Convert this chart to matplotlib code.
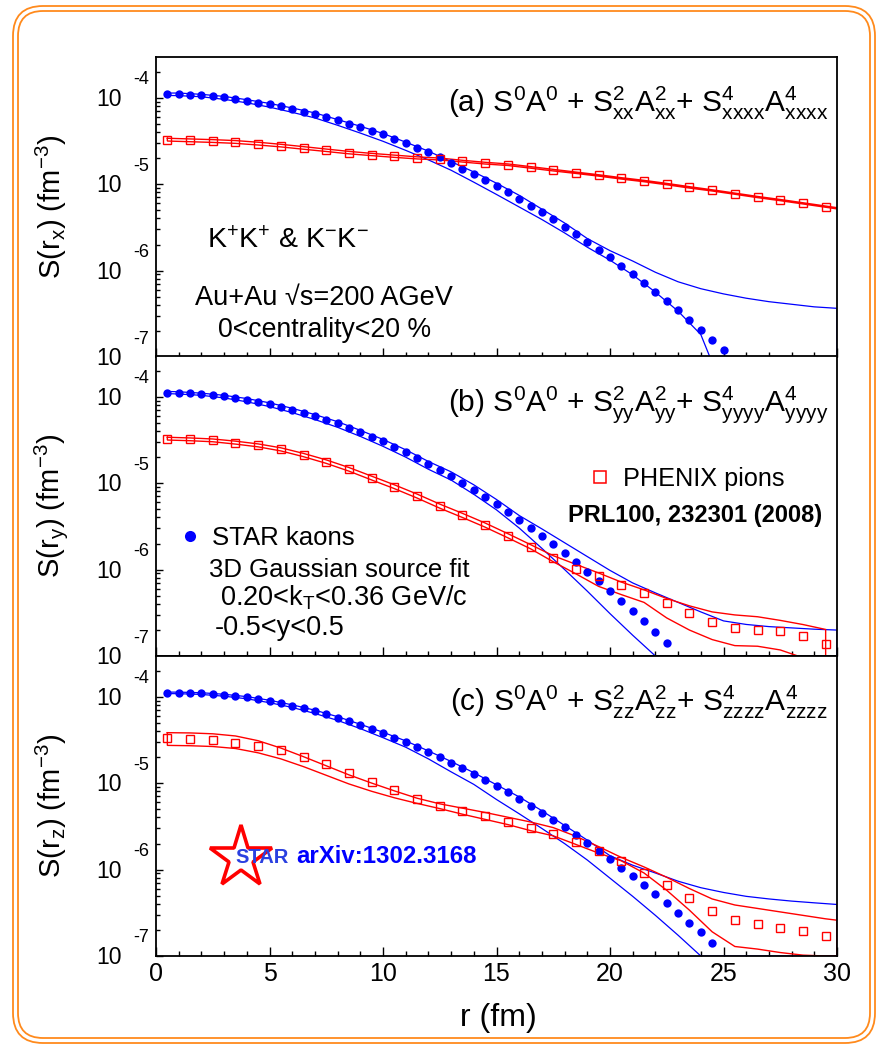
import numpy as np
import matplotlib
matplotlib.use('Agg')
import matplotlib.pyplot as plt
from matplotlib.patches import FancyBboxPatch
from matplotlib.transforms import IdentityTransform, offset_copy
from matplotlib.ticker import LogLocator, NullFormatter, MultipleLocator

plt.rcParams['font.family'] = ['Liberation Sans', 'DejaVu Sans']
plt.rcParams['mathtext.fontset'] = 'custom'
plt.rcParams['mathtext.rm'] = 'Liberation Sans'
plt.rcParams['mathtext.it'] = 'Liberation Sans:italic'
plt.rcParams['mathtext.bf'] = 'Liberation Sans:bold'
plt.rcParams['mathtext.default'] = 'regular'

# ---------------- data (log10 of S in fm^-3) ----------------
# STAR kaons, r = 0.5, 1.0, 1.5, ...
A_kaon_log = [-3.957, -3.957, -3.965, -3.972, -3.980, -3.996, -4.015, -4.034, -4.057, -4.077,
              -4.100, -4.130, -4.161, -4.187, -4.226, -4.264, -4.302, -4.341, -4.387, -4.425,
              -4.479, -4.525, -4.578, -4.629, -4.692, -4.758, -4.822, -4.888, -4.949, -5.023,
              -5.096, -5.168, -5.249, -5.323, -5.404, -5.491, -5.580, -5.669, -5.757, -5.849,
              -5.945, -6.045, -6.142, -6.249, -6.353, -6.460, -6.574, -6.685, -6.800, -6.915]
B_kaon_log = [-3.954, -3.954, -3.962, -3.970, -3.981, -3.997, -4.016, -4.035, -4.063, -4.086,
              -4.116, -4.150, -4.185, -4.225, -4.266, -4.309, -4.359, -4.410, -4.463, -4.517,
              -4.579, -4.637, -4.706, -4.775, -4.850, -4.922, -4.995, -5.076, -5.157, -5.243,
              -5.336, -5.424, -5.516, -5.613, -5.709, -5.813, -5.914, -6.025, -6.134, -6.250,
              -6.366, -6.481, -6.597, -6.720, -6.847]
C_kaon_log = [-3.954, -3.954, -3.958, -3.962, -3.970, -3.981, -3.993, -4.008, -4.031, -4.051,
              -4.078, -4.104, -4.135, -4.167, -4.205, -4.243, -4.286, -4.332, -4.378, -4.425,
              -4.475, -4.525, -4.583, -4.641, -4.699, -4.764, -4.830, -4.896, -4.965, -5.038,
              -5.108, -5.181, -5.262, -5.347, -5.424, -5.513, -5.602, -5.690, -5.782, -5.880,
              -5.979, -6.076, -6.181, -6.280, -6.392, -6.505, -6.616, -6.728, -6.847]

# PHENIX pions, r = 0.5, 1.5, ..., 29.5
r_pion = [0.5, 1.5, 2.5, 3.5, 4.5, 5.5, 6.5, 7.5, 8.5, 9.5, 10.5, 11.5, 12.5, 13.5, 14.5,
          15.5, 16.5, 17.5, 18.5, 19.5, 20.5, 21.5, 22.5, 23.5, 24.5, 25.5, 26.5, 27.5, 28.5, 29.5]
A_pion_log = [-4.486, -4.494, -4.502, -4.513, -4.532, -4.555, -4.582, -4.609, -4.636, -4.658,
              -4.678, -4.697, -4.710, -4.735, -4.758, -4.776, -4.807, -4.839, -4.869, -4.900,
              -4.934, -4.965, -5.000, -5.038, -5.073, -5.111, -5.150, -5.185, -5.223, -5.261]
B_pion_log = [-4.486, -4.494, -4.506, -4.532, -4.564, -4.610, -4.676, -4.752, -4.841, -4.942,
              -5.042, -5.150, -5.266, -5.374, -5.486, -5.609, -5.736, -5.872, -5.991, -6.076,
              -6.176, -6.269, -6.384, -6.500, -6.604, -6.674, -6.705, -6.713, -6.771, -6.859]
C_pion_log = [-4.483, -4.491, -4.506, -4.532, -4.567, -4.618, -4.699, -4.784, -4.880, -4.984,
              -5.085, -5.181, -5.266, -5.324, -5.382, -5.447, -5.516, -5.594, -5.678, -5.787,
              -5.903, -6.037, -6.181, -6.334, -6.481, -6.586, -6.635, -6.674, -6.716, -6.763]

# kaon fit bands (upper / lower edges)
rband_A = [0.5, 1, 2, 3, 4, 5, 6, 7, 8, 9, 10, 11, 12, 13, 14, 15, 16, 17, 18, 19, 20,
           21, 22, 23, 24, 24.4, 25, 26, 27, 28, 29, 30]
A_kband_up = [-3.947, -3.947, -3.962, -3.986, -4.024, -4.067, -4.120, -4.177, -4.254, -4.331,
              -4.415, -4.515, -4.619, -4.740, -4.860, -4.990, -5.130, -5.290, -5.450, -5.630,
              -5.770, -5.890, -6.020, -6.130, -6.210, -6.234, -6.270, -6.320, -6.360, -6.390,
              -6.420, -6.437]
A_kband_lo = [-3.975, -3.977, -3.990, -4.020, -4.060, -4.110, -4.170, -4.235, -4.320, -4.410,
              -4.505, -4.610, -4.720, -4.840, -4.978, -5.120, -5.265, -5.410, -5.565, -5.730,
              -5.880, -6.050, -6.250, -6.470, -6.740, -7.000, -7.000, -7.000, -7.000, -7.000,
              -7.000, -7.000]
rband_BC = [0.5, 1, 2, 3, 4, 5, 6, 7, 8, 9, 10, 11, 12, 13, 14, 15, 16, 17, 18, 19, 20,
            21, 22, 23, 24, 25, 26, 27, 28, 29, 30]
B_kband_up = [-3.940, -3.944, -3.960, -3.985, -4.022, -4.072, -4.135, -4.208, -4.290, -4.390,
              -4.495, -4.615, -4.750, -4.870, -5.020, -5.190, -5.375, -5.530, -5.690, -5.850,
              -6.010, -6.155, -6.270, -6.380, -6.490, -6.594, -6.635, -6.660, -6.675, -6.690,
              -6.700]
B_kband_lo = [-3.965, -3.970, -3.985, -4.015, -4.060, -4.115, -4.185, -4.265, -4.355, -4.460,
              -4.575, -4.700, -4.840, -4.965, -5.130, -5.310, -5.520, -5.755, -6.000, -6.250,
              -6.510, -6.760, -7.000, -7.000, -7.000, -7.000, -7.000, -7.000, -7.000, -7.000,
              -7.000]
C_kband_up = [-3.948, -3.948, -3.955, -3.973, -4.000, -4.042, -4.095, -4.157, -4.232, -4.320,
              -4.412, -4.512, -4.628, -4.750, -4.880, -5.020, -5.160, -5.320, -5.490, -5.660,
              -5.840, -5.950, -6.040, -6.135, -6.210, -6.265, -6.310, -6.340, -6.365, -6.385,
              -6.404]
C_kband_lo = [-3.965, -3.966, -3.975, -3.995, -4.025, -4.070, -4.125, -4.195, -4.275, -4.370,
              -4.475, -4.585, -4.720, -4.870, -5.015, -5.190, -5.355, -5.525, -5.700, -5.890,
              -6.100, -6.310, -6.530, -6.760, -7.000, -7.000, -7.000, -7.000, -7.000, -7.000,
              -7.000]

# pion fit bands
rband_pA = r_pion + [30]
A_pband_up = [-4.470, -4.478, -4.486, -4.497, -4.516, -4.540, -4.567, -4.595, -4.622, -4.645,
              -4.665, -4.685, -4.699, -4.725, -4.748, -4.767, -4.798, -4.830, -4.861, -4.892,
              -4.926, -4.957, -4.992, -5.030, -5.066, -5.104, -5.143, -5.178, -5.216, -5.254,
              -5.273]
A_pband_lo = [-4.502, -4.510, -4.518, -4.529, -4.548, -4.570, -4.597, -4.623, -4.650, -4.671,
              -4.691, -4.709, -4.721, -4.745, -4.768, -4.785, -4.816, -4.848, -4.877, -4.908,
              -4.942, -4.973, -5.008, -5.046, -5.080, -5.118, -5.157, -5.192, -5.230, -5.268,
              -5.287]
rband_pB = r_pion
B_pband_up = [-4.470, -4.478, -4.490, -4.515, -4.547, -4.592, -4.657, -4.732, -4.820, -4.920,
              -5.020, -5.127, -5.243, -5.350, -5.462, -5.585, -5.712, -5.840, -5.940, -6.040,
              -6.145, -6.235, -6.335, -6.420, -6.490, -6.525, -6.546, -6.588, -6.636, -6.693]
B_pband_lo = [-4.502, -4.510, -4.522, -4.549, -4.581, -4.628, -4.695, -4.772, -4.862, -4.964,
              -5.064, -5.173, -5.290, -5.398, -5.510, -5.633, -5.760, -5.910, -6.050, -6.195,
              -6.290, -6.380, -6.560, -6.700, -6.810, -6.880, -6.887, -6.930, -7.020, -7.150]
rband_pC = r_pion + [30]
C_pband_up = [-4.417, -4.420, -4.430, -4.455, -4.510, -4.595, -4.695, -4.800, -4.905, -5.000,
              -5.090, -5.175, -5.240, -5.290, -5.340, -5.395, -5.450, -5.515, -5.615, -5.735,
              -5.860, -5.970, -6.090, -6.220, -6.340, -6.410, -6.450, -6.490, -6.530, -6.570,
              -6.586]
C_pband_lo = [-4.564, -4.568, -4.577, -4.600, -4.650, -4.720, -4.810, -4.910, -5.010, -5.095,
              -5.170, -5.235, -5.295, -5.360, -5.420, -5.480, -5.550, -5.610, -5.710, -5.810,
              -5.900, -6.040, -6.240, -6.470, -6.720, -6.890, -6.920, -6.960, -6.990, -7.000,
              -7.000]

panel_titles = [r'(a) S$^{0}$A$^{0}$ + S$^{2}_{xx}$A$^{2}_{xx}$+ S$^{4}_{xxxx}$A$^{4}_{xxxx}$',
                r'(b) S$^{0}$A$^{0}$ + S$^{2}_{yy}$A$^{2}_{yy}$+ S$^{4}_{yyyy}$A$^{4}_{yyyy}$',
                r'(c) S$^{0}$A$^{0}$ + S$^{2}_{zz}$A$^{2}_{zz}$+ S$^{4}_{zzzz}$A$^{4}_{zzzz}$']
ylabels = [r'S(r$_{x}$) (fm$^{-3}$)', r'S(r$_{y}$) (fm$^{-3}$)', r'S(r$_{z}$) (fm$^{-3}$)']
decades = [-4, -5, -6, -7]
xticks = [0, 5, 10, 15, 20, 25, 30]

BLUE = '#0000FF'
RED = '#FF0000'
W, H = 881, 1045

fig = plt.figure(figsize=(W / 100, H / 100), dpi=100)

# axes pixel geometry
xl, xr = 156, 837
panels_px = [(57, 357), (356, 656), (656, 956)]
axes = []
for (top, bot) in panels_px:
    ax = fig.add_axes([xl / W, 1 - bot / H, (xr - xl) / W, (bot - top) / H])
    axes.append(ax)


def band(ax, r, up, lo, color, lw):
    r = np.asarray(r, float)
    x = np.concatenate([r, r[::-1], r[:1]])
    y = np.concatenate([10.0 ** np.asarray(up), 10.0 ** np.asarray(lo)[::-1], 10.0 ** np.asarray(up[:1])])
    ax.plot(x, y, color=color, lw=lw, zorder=3, solid_joinstyle='miter')


kaons = [A_kaon_log, B_kaon_log, C_kaon_log]
pions = [A_pion_log, B_pion_log, C_pion_log]
kbands = [(rband_A, A_kband_up, A_kband_lo), (rband_BC, B_kband_up, B_kband_lo),
          (rband_BC, C_kband_up, C_kband_lo)]
pbands = [(rband_pA, A_pband_up, A_pband_lo), (rband_pB, B_pband_up, B_pband_lo),
          (rband_pC, C_pband_up, C_pband_lo)]

for i, ax in enumerate(axes):
    ax.set_yscale('log')
    ax.set_xlim(0, 30)
    ax.set_ylim(1e-7, 2.95e-4)
    rk = 0.5 * np.arange(1, len(kaons[i]) + 1)
    band(ax, *kbands[i], BLUE, 0.9)
    band(ax, *pbands[i], RED, 1.0)
    ax.plot(rk, 10.0 ** np.asarray(kaons[i]), 'o', color=BLUE, ms=6.0, mew=0, zorder=4)
    ax.plot(r_pion, 10.0 ** np.asarray(pions[i]), 's', mfc='none', mec=RED, ms=5.8, mew=1.0, zorder=4)

    for s in ax.spines.values():
        s.set_linewidth(1.3)
        s.set_color('black')
        s.set_zorder(5)
    ax.xaxis.set_major_locator(MultipleLocator(5))
    ax.xaxis.set_minor_locator(MultipleLocator(1))
    ax.yaxis.set_major_locator(LogLocator(base=10))
    ax.yaxis.set_minor_locator(LogLocator(base=10, subs=np.arange(2, 10)))
    ax.yaxis.set_major_formatter(NullFormatter())
    ax.yaxis.set_minor_formatter(NullFormatter())
    ax.tick_params(axis='x', which='major', direction='in', length=6.5, width=1.0, top=False)
    ax.tick_params(axis='x', which='minor', direction='in', length=3.3, width=1.0, top=False)
    ax.tick_params(axis='y', which='major', direction='in', length=5.2, width=1.0, right=False)
    ax.tick_params(axis='y', which='minor', direction='in', length=3.0, width=1.0, right=False)
    if i < 2:
        ax.set_xticklabels([])
    else:
        ax.set_xticks(xticks)
        ax.set_xticklabels([str(t) for t in xticks], fontsize=18)
        ax.tick_params(axis='x', which='major', pad=4.5)

    # ROOT style y tick labels
    ytr = ax.get_yaxis_transform()
    for d in decades:
        ax.text(-34 / 681, 10.0 ** d, '10', transform=offset_copy(ytr, fig=fig, y=-1.5, units='dots'),
                ha='right', va='center', fontsize=16.5)
        ax.text(-23 / 681, 10.0 ** d, str(d), transform=offset_copy(ytr, fig=fig, y=18, units='dots'),
                ha='left', va='center', fontsize=13)

    # panel title
    ax.text(0.987, 0.818, panel_titles[i], transform=ax.transAxes, ha='right', va='baseline',
            fontsize=21.5)
    top, bot = panels_px[i]
    fig.text(51 / W, 1 - (top + bot) / 2 / H, ylabels[i], rotation=90, ha='center', va='center',
             fontsize=21)

fig.text(498 / W, 1 - 1018 / H, 'r (fm)', ha='center', va='center', fontsize=23)

# panel (a) annotations
axA, axB, axC = axes
axA.text(0.075, 0.363, r'K$^{+}$K$^{+}$ & K$^{-}$K$^{-}$', transform=axA.transAxes,
         ha='left', va='baseline', fontsize=20.5)
axA.text(0.057, 0.173, 'Au+Au \u221as=200 AGeV', transform=axA.transAxes,
         ha='left', va='baseline', fontsize=19.5)
axA.text(0.091, 0.067, '0<centrality<20 %', transform=axA.transAxes,
         ha='left', va='baseline', fontsize=19.2)

# panel (b) annotations
axB.plot([0.050], [0.40], 'o', color=BLUE, ms=8, mew=0, transform=axB.transAxes, clip_on=False)
axB.text(0.082, 0.37, 'STAR kaons', transform=axB.transAxes, ha='left', va='baseline', fontsize=18.5)
axB.text(0.078, 0.263, '3D Gaussian source fit', transform=axB.transAxes, ha='left', va='baseline',
         fontsize=18.5)
axB.text(0.094, 0.17, r'0.20<k$_{T}$<0.36 GeV/c', transform=axB.transAxes, ha='left', va='baseline',
         fontsize=19.5)
axB.text(0.086, 0.07, '-0.5<y<0.5', transform=axB.transAxes, ha='left', va='baseline', fontsize=19.5)
axB.plot([0.652], [0.597], 's', mfc='none', mec=RED, ms=8.5, mew=1.1, transform=axB.transAxes,
         clip_on=False)
axB.text(0.686, 0.567, 'PHENIX pions', transform=axB.transAxes, ha='left', va='baseline', fontsize=18.2)
axB.text(0.978, 0.447, 'PRL100, 232301 (2008)', transform=axB.transAxes, ha='right', va='baseline',
         fontsize=17, fontweight='bold')

# panel (c) annotations: STAR logo + arXiv
axC.plot([0.125], [0.327], marker='*', ms=47, mfc='white', mec=RED, mew=2.6,
         transform=axC.transAxes, clip_on=False, zorder=5)
axC.text(0.116, 0.327, 'STAR', transform=axC.transAxes, ha='left', va='center', fontsize=14.5,
         fontweight='bold', color='#2a40e0', zorder=6)
axC.text(0.206, 0.31, 'arXiv:1302.3168', transform=axC.transAxes, ha='left', va='baseline',
         fontsize=17.3, fontweight='bold', color=BLUE, zorder=6)

# orange double rounded border
for (x0, y0, x1, y1, rad) in [(13, 6, 875, 1043, 30), (18, 11, 870, 1038, 25)]:
    p = FancyBboxPatch((x0, H - y1), x1 - x0, y1 - y0,
                       boxstyle='round,pad=0,rounding_size=%d' % rad,
                       transform=IdentityTransform(), fill=False, ec='#FF8A1C', lw=1.3)
    fig.add_artist(p)

fig.savefig('out.png', dpi=100)
